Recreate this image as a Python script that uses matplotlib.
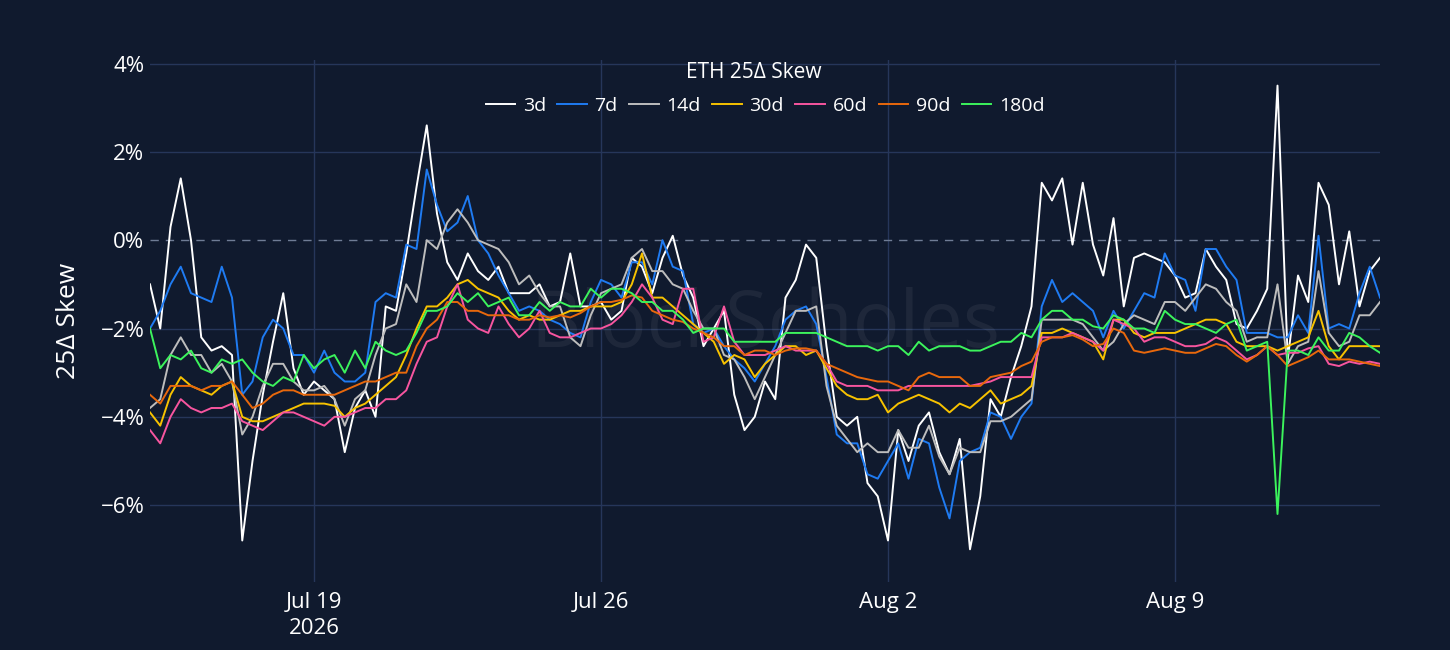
import matplotlib

matplotlib.use("Agg")
import matplotlib.pyplot as plt
import pandas as pd

# 6-hourly samples, Jul 15 2026 00:00 -> Aug 14 2026 00:00 (121 points)
TIMES = pd.date_range("2026-07-15 00:00", periods=121, freq="6h")

SKEW_3D = [
    -1.0, -2.0, 0.3, 1.4, 0.0, -2.2, -2.5, -2.4, -2.6, -6.8, -5.0, -3.5, -2.3, -1.2, -2.9, -3.5,
    -3.2, -3.4, -3.6, -4.8, -3.8, -3.4, -4.0, -1.5, -1.6,
    -0.3, 1.2, 2.6, 0.6, -0.5, -0.9, -0.3, -0.7, -0.9, -0.6, -1.2, -1.2, -1.2, -1.0, -1.5, -1.4,
    -0.3, -1.5, -1.5, -1.4, -1.8, -1.6, -0.4, -0.6,
    -1.2, -0.4, 0.1, -0.8, -1.3, -2.4, -2.0, -1.6, -3.5, -4.3, -4.0, -3.2, -3.6, -1.3, -0.9, -0.1,
    -0.4, -2.4, -4.0, -4.2, -4.0, -5.5, -5.8, -6.8,
    -4.3, -5.0, -4.2, -3.9, -4.8, -5.3, -4.5, -7.0, -5.8, -3.6, -4.0, -3.1, -2.4, -1.5, 1.3, 0.9,
    1.4, -0.1, 1.3, -0.1, -0.8, 0.5, -1.5, -0.4, -0.3,
    -0.4, -0.5, -0.8, -1.3, -1.2, -0.2, -0.6, -0.9, -1.9, -2.0, -1.6, -1.1, 3.5, -2.7, -0.8, -1.4,
    1.3, 0.8, -1.0, 0.2, -1.5, -0.7, -0.4,
]
SKEW_7D = [
    -2.0, -1.6, -1.0, -0.6, -1.2, -1.3, -1.4, -0.6, -1.3, -3.5, -3.2, -2.2, -1.8, -2.0, -2.6, -2.6,
    -3.0, -2.5, -3.0, -3.2, -3.2, -3.0, -1.4, -1.2, -1.3,
    -0.1, -0.2, 1.6, 0.8, 0.2, 0.4, 1.0, 0.0, -0.3, -0.8, -1.2, -1.6, -1.5, -1.6, -1.8, -1.9,
    -2.1, -2.2, -1.4, -0.9, -1.0, -1.3, -0.5, -0.5,
    -1.0, 0.0, -0.6, -0.7, -1.9, -2.1, -2.0, -2.4, -2.7, -2.9, -3.2, -2.8, -2.4, -1.8, -1.6, -1.5,
    -1.9, -3.1, -4.4, -4.6, -4.6, -5.3, -5.4, -5.0,
    -4.6, -5.4, -4.5, -4.6, -5.6, -6.3, -5.0, -4.8, -4.7, -3.9, -4.0, -4.5, -4.0, -3.7, -1.5, -0.9,
    -1.4, -1.2, -1.4, -1.6, -2.2, -1.6, -2.0, -1.6, -1.2,
    -1.3, -0.3, -0.8, -0.9, -1.6, -0.2, -0.2, -0.6, -0.9, -2.1, -2.1, -2.1, -2.2, -2.2, -1.7, -2.1,
    0.1, -2.0, -1.9, -2.0, -1.2, -0.6, -1.3,
]
SKEW_14D = [
    -3.8, -3.6, -2.6, -2.2, -2.6, -2.6, -3.0, -2.8, -3.2, -4.4, -4.0, -3.3, -2.8, -2.8, -3.2, -3.4,
    -3.4, -3.3, -3.6, -4.2, -3.6, -3.4, -2.6, -2.0, -1.9,
    -1.0, -1.4, 0.0, -0.2, 0.4, 0.7, 0.4, 0.0, -0.1, -0.2, -0.5, -1.0, -0.8, -1.2, -1.5, -1.5,
    -2.2, -2.4, -1.7, -1.2, -1.1, -1.0, -0.4, -0.2,
    -0.7, -0.7, -1.0, -1.1, -1.6, -2.0, -2.0, -2.6, -2.7, -3.1, -3.6, -3.1, -2.6, -2.1, -1.6, -1.6,
    -1.5, -3.3, -4.2, -4.5, -4.8, -4.6, -4.8, -4.8,
    -4.3, -4.7, -4.7, -4.2, -4.9, -5.3, -4.7, -4.8, -4.8, -4.1, -4.1, -4.0, -3.8, -3.6, -1.8, -1.8,
    -1.8, -1.8, -1.9, -2.2, -2.5, -2.3, -1.9, -1.7, -1.8,
    -1.9, -1.4, -1.4, -1.6, -1.3, -1.0, -1.1, -1.4, -1.6, -2.3, -2.2, -2.2, -1.0, -2.8, -2.4, -2.3,
    -0.7, -2.1, -2.4, -2.3, -1.7, -1.7, -1.4,
]
SKEW_30D = [
    -3.9, -4.2, -3.5, -3.1, -3.3, -3.4, -3.5, -3.3, -3.2, -4.0, -4.1, -4.1, -4.0, -3.9, -3.8, -3.7,
    -3.7, -3.7, -3.75, -4.0, -3.8, -3.7, -3.5, -3.3, -3.1,
    -2.6, -2.0, -1.5, -1.5, -1.3, -1.0, -0.9, -1.1, -1.2, -1.3, -1.6, -1.8, -1.7, -1.8, -1.8, -1.7,
    -1.6, -1.6, -1.5, -1.5, -1.5, -1.4, -1.0, -0.3,
    -1.3, -1.3, -1.5, -1.7, -1.9, -2.1, -2.3, -2.8, -2.6, -2.7, -3.1, -2.8, -2.6, -2.4, -2.4, -2.6,
    -2.5, -2.9, -3.3, -3.5, -3.6, -3.6, -3.5, -3.9,
    -3.7, -3.6, -3.5, -3.6, -3.7, -3.9, -3.7, -3.8, -3.6, -3.4, -3.7, -3.6, -3.5, -3.3, -2.1, -2.1,
    -2.0, -2.1, -2.2, -2.3, -2.7, -1.8, -1.8, -2.1, -2.2,
    -2.1, -2.1, -2.1, -2.0, -1.9, -1.8, -1.8, -1.9, -2.3, -2.4, -2.4, -2.4, -2.5, -2.4, -2.3, -2.2,
    -1.6, -2.4, -2.7, -2.4, -2.4, -2.4, -2.4,
]
SKEW_60D = [
    -4.3, -4.6, -4.0, -3.6, -3.8, -3.9, -3.8, -3.8, -3.7, -4.1, -4.2, -4.3, -4.1, -3.9, -3.9, -4.0,
    -4.1, -4.2, -4.0, -4.0, -3.9, -3.8, -3.8, -3.6, -3.6,
    -3.4, -2.8, -2.3, -2.2, -1.5, -1.0, -1.8, -2.0, -2.1, -1.5, -1.9, -2.2, -2.0, -1.6, -2.1, -2.2,
    -2.2, -2.1, -2.0, -2.0, -1.9, -1.7, -1.4, -1.0,
    -1.3, -1.8, -1.9, -1.1, -1.1, -2.3, -2.2, -1.5, -2.3, -2.6, -2.6, -2.6, -2.5, -2.4, -2.5, -2.5,
    -2.5, -2.8, -3.2, -3.3, -3.3, -3.3, -3.4, -3.4,
    -3.4, -3.3, -3.3, -3.3, -3.3, -3.3, -3.3, -3.3, -3.25, -3.2, -3.1, -3.1, -3.1, -3.1, -2.2, -2.2,
    -2.2, -2.1, -2.2, -2.3, -2.5, -1.8, -1.9, -2.0, -2.3,
    -2.2, -2.2, -2.3, -2.4, -2.4, -2.35, -2.2, -2.3, -2.5, -2.7, -2.6, -2.4, -2.6, -2.55, -2.55, -2.45,
    -2.4, -2.8, -2.85, -2.75, -2.8, -2.75, -2.8,
]
SKEW_90D = [
    -3.5, -3.7, -3.3, -3.3, -3.3, -3.4, -3.3, -3.3, -3.2, -3.5, -3.8, -3.7, -3.5, -3.4, -3.4, -3.5,
    -3.5, -3.5, -3.5, -3.4, -3.3, -3.2, -3.2, -3.1, -3.0,
    -3.0, -2.4, -2.0, -1.8, -1.4, -1.4, -1.6, -1.6, -1.7, -1.7, -1.7, -1.8, -1.8, -1.7, -1.75, -1.7,
    -1.75, -1.65, -1.5, -1.4, -1.4, -1.35, -1.25, -1.3,
    -1.6, -1.7, -1.8, -1.85, -2.0, -2.1, -2.2, -2.4, -2.4, -2.6, -2.5, -2.5, -2.6, -2.5, -2.45, -2.45,
    -2.5, -2.8, -2.9, -3.0, -3.1, -3.15, -3.2, -3.2,
    -3.3, -3.4, -3.1, -3.0, -3.1, -3.1, -3.1, -3.3, -3.3, -3.1, -3.05, -3.0, -2.85, -2.75, -2.3, -2.2,
    -2.2, -2.15, -2.25, -2.4, -2.35, -2.0, -2.1, -2.5, -2.55,
    -2.5, -2.45, -2.5, -2.55, -2.55, -2.45, -2.35, -2.4, -2.6, -2.75, -2.6, -2.4, -2.6, -2.85, -2.75, -2.65,
    -2.5, -2.7, -2.7, -2.7, -2.75, -2.8, -2.85,
]
SKEW_180D = [
    -2.0, -2.9, -2.6, -2.7, -2.5, -2.9, -3.0, -2.7, -2.8, -2.7, -3.0, -3.2, -3.3, -3.1, -3.2, -2.6,
    -2.9, -2.7, -2.6, -3.0, -2.5, -2.9, -2.3, -2.5, -2.6,
    -2.5, -2.1, -1.6, -1.6, -1.5, -1.2, -1.4, -1.2, -1.5, -1.4, -1.3, -1.7, -1.7, -1.4, -1.6, -1.4,
    -1.5, -1.5, -1.1, -1.3, -1.1, -1.1, -1.2, -1.4,
    -1.4, -1.6, -1.6, -1.8, -2.1, -2.0, -2.0, -2.0, -2.3, -2.3, -2.3, -2.3, -2.3, -2.1, -2.1, -2.1,
    -2.1, -2.2, -2.3, -2.4, -2.4, -2.4, -2.5, -2.4,
    -2.4, -2.6, -2.3, -2.5, -2.4, -2.4, -2.4, -2.5, -2.5, -2.4, -2.3, -2.3, -2.1, -2.2, -1.8, -1.6,
    -1.6, -1.8, -1.8, -1.95, -2.0, -1.7, -1.8, -2.0, -2.0,
    -2.1, -1.6, -1.8, -1.9, -1.9, -2.0, -2.1, -1.9, -1.8, -2.5, -2.4, -2.3, -6.2, -2.5, -2.5, -2.6,
    -2.2, -2.5, -2.5, -2.1, -2.2, -2.4, -2.55,
]

TENORS = ["3d", "7d", "14d", "30d", "60d", "90d", "180d"]
SERIES = [SKEW_3D, SKEW_7D, SKEW_14D, SKEW_30D, SKEW_60D, SKEW_90D, SKEW_180D]
COLORS = ["#ffffff", "#1f7bf2", "#bdbdbd", "#f7c200", "#f7559f", "#e8680c", "#3cf35c"]

Y_TICKS = [-6, -4, -2, 0, 2, 4]
X_TICKS = ["2026-07-19", "2026-07-26", "2026-08-02", "2026-08-09"]
X_LABELS = ["Jul 19\n2026", "Jul 26", "Aug 2", "Aug 9"]

BG = "#101a2e"
GRID = "#26365a"

plt.rcParams["font.family"] = ["Open Sans", "DejaVu Sans"]

fig = plt.figure(figsize=(14.5, 6.5), dpi=100, facecolor=BG)
ax = fig.add_axes([150 / 1450, 1 - 582 / 650, 1230 / 1450, 522 / 650])
ax.set_facecolor(BG)

for t in Y_TICKS:
    if t == 0:
        ax.axhline(0, color="#6f7c95", lw=1.0, ls=(0, (6, 5)), zorder=1)
    else:
        ax.axhline(t, color=GRID, lw=1.0, zorder=0)
for d in X_TICKS:
    ax.axvline(pd.Timestamp(d), color=GRID, lw=1.0, zorder=0)

# faint watermark
ax.text(0.5, 0.49, "BlockScholes", transform=ax.transAxes, ha="center", va="center",
        fontsize=56, color="#ffffff", alpha=0.06, zorder=1)

for name, vals, col in zip(TENORS, SERIES, COLORS):
    ax.plot(TIMES, vals, color=col, lw=1.4, label=name, zorder=3)

ax.set_xlim(TIMES[0], TIMES[-1])
ax.set_ylim(-7.74, 4.08)
ax.set_yticks(Y_TICKS)
ax.set_yticklabels([f"{t}%".replace("-", "\u2212") for t in Y_TICKS])
ax.set_xticks([pd.Timestamp(d) for d in X_TICKS])
ax.set_xticklabels(X_LABELS, linespacing=1.3)
ax.tick_params(colors="white", labelsize=16, length=0)
ax.tick_params(axis="y", pad=4)
ax.tick_params(axis="x", pad=7)
for s in ax.spines.values():
    s.set_visible(False)

ax.set_ylabel("25\u0394 Skew", color="white", fontsize=19, labelpad=14)

fig.text(754 / 1450, 1 - 72 / 650, "ETH 25\u0394 Skew", color="white", fontsize=15,
         ha="center", va="center")
fig.legend(loc="center", bbox_to_anchor=(765 / 1450, 1 - 106 / 650), ncol=7, frameon=False,
           fontsize=14, labelcolor="white", handlelength=1.5, handletextpad=0.4,
           columnspacing=0.6)

fig.savefig("out.png", dpi=100, facecolor=BG)
